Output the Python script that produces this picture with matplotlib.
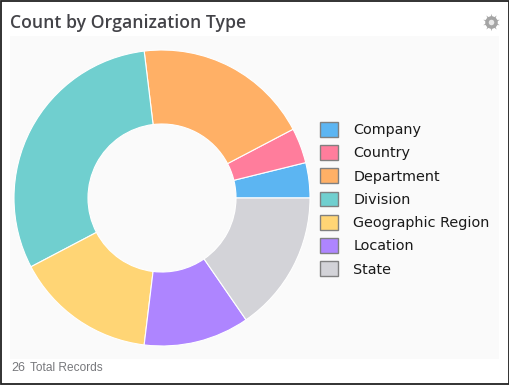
import matplotlib
matplotlib.use("Agg")
import matplotlib.pyplot as plt
from matplotlib.patches import Rectangle

categories = ["Company", "Country", "Department", "Division",
              "Geographic Region", "Location", "State"]
counts = [1, 1, 5, 8, 4, 3, 4]
colors = ["#5CB5F2", "#FF7D9C", "#FFB066", "#70CFCF", "#FFD575", "#AE85FF", "#D3D3D8"]
title = "Count by Organization Type"
footer_count = "26"
footer_label = "Total Records"

W, H = 510, 386
fig = plt.figure(figsize=(W / 100, H / 100), dpi=100, facecolor="white")

# background layer in pixel coordinates, y going down
bg = fig.add_axes([0, 0, 1, 1])
bg.set_xlim(0, W)
bg.set_ylim(H, 0)
bg.axis("off")
bg.add_patch(Rectangle((10, 36), 489, 323, fc="#FAFAFA", ec="none"))
bg.add_patch(Rectangle((0.75, 0.75), W - 2, H - 2.5, fc="none", ec="#222222", lw=1.3))

bg.text(10, 23.5, title, fontsize=12.7, family="Open Sans", fontweight="semibold",
        color="#434348", va="center", ha="left")
bg.text(11, 368, footer_count, fontsize=9, family="Liberation Sans", color="#77787C",
        va="center", ha="left")
bg.text(30, 368, footer_label, fontsize=8.6, family="Liberation Sans", color="#77787C",
        va="center", ha="left")

# settings gear, top right
bg.plot([491.5], [21.5], marker=(10, 1, 0), ms=12.5, color="#AEAEAE", mew=0)
bg.plot([491.5], [21.5], marker="o", ms=9, color="#A4A4A4", mew=0)
bg.plot([491.5], [21.5], marker="o", ms=4, color="#E8E8E8", mew=0)

# pie area: centre about (162, 198), outer radius 148
ax = fig.add_axes([14 / W, (H - 346) / H, 296 / W, 296 / H])
ax.set_aspect("equal")
wedges, _ = ax.pie(counts, colors=colors, startangle=0, counterclock=True, radius=1,
                   wedgeprops=dict(width=0.5, edgecolor="white", linewidth=0.8))
ax.set_xlim(-1, 1)
ax.set_ylim(-1, 1)

leg = fig.legend(wedges, categories, loc="upper left", bbox_to_anchor=(316 / W, 1 - 117.5 / H),
                 frameon=False, fontsize=10.35, handlelength=1.2, handleheight=1.2,
                 handletextpad=1.1, labelspacing=0.56, borderaxespad=0, borderpad=0.3,
                 labelcolor="#1A1A1A")
for h in leg.legend_handles:
    h.set_edgecolor("#808080")
    h.set_linewidth(1.0)

fig.savefig("out.png", dpi=100)
